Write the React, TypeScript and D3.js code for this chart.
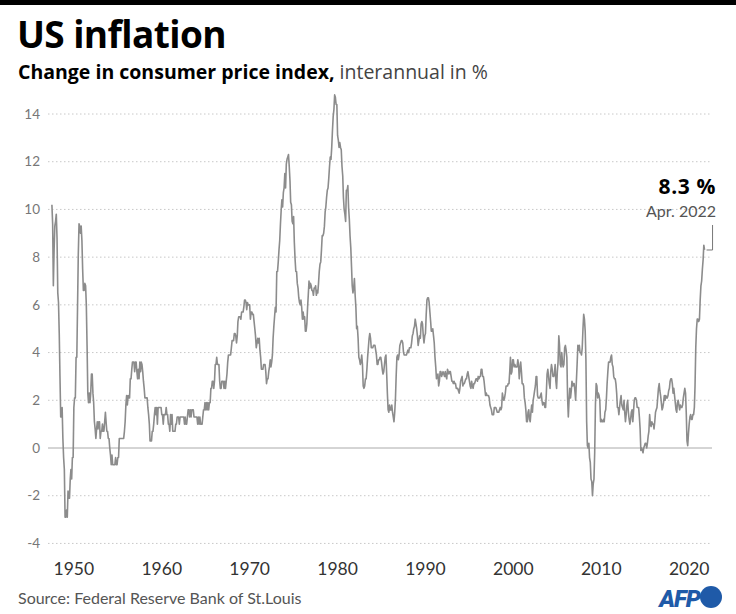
import React from "react";
import * as d3 from "d3";

// Monthly CPI year-on-year change (%), starting Jan 1948
const startYear = 1948;
const cpi1948_1959 = [
  10.2, 9.4, 6.8, 8.3, 9.3, 9.5, 9.8, 8.8, 6.5, 6.1, 4.8, 3.0,
  1.3, 1.3, 1.7, 0.4, -0.4, -0.9, -2.9, -2.9, -2.6, -2.9, -1.8, -2.1,
  -2.1, -1.3, -0.9, -1.3, -0.4, -0.4, 1.7, 2.1, 2.1, 3.8, 3.8, 5.9,
  8.1, 9.4, 9.3, 9.0, 9.3, 8.7, 7.5, 6.6, 6.6, 6.9, 6.8, 6.0,
  4.3, 2.3, 1.9, 2.3, 1.9, 2.3, 3.1, 3.1, 2.3, 1.9, 1.1, 0.8,
  0.4, 0.8, 1.1, 0.8, 1.1, 1.1, 0.4, 0.7, 0.7, 1.0, 0.7, 0.7,
  1.1, 1.5, 1.1, 0.7, 0.7, 0.4, 0.4, 0.0, -0.3, -0.7, -0.3, -0.7,
  -0.7, -0.7, -0.7, -0.4, -0.7, -0.7, -0.4, -0.4, 0.4, 0.4, 0.4, 0.4,
  0.4, 0.4, 0.4, 0.7, 1.1, 1.8, 2.2, 1.8, 2.2, 2.1, 2.1, 2.9,
  2.9, 3.3, 3.6, 3.6, 3.6, 3.2, 3.6, 3.6, 3.2, 2.9, 3.3, 2.9,
  3.6, 3.2, 3.6, 3.5, 3.2, 2.8, 2.5, 2.1, 2.1, 2.1, 2.1, 1.7,
  1.4, 1.0, 0.3, 0.3, 0.3, 0.7, 0.7, 1.0, 1.4, 1.7, 1.4, 1.7,
];
const cpi1960_1969 = [
  1.0, 1.7, 1.7, 1.7, 1.7, 1.7, 1.4, 1.4, 1.0, 1.4, 1.4, 1.4,
  1.7, 1.4, 1.4, 1.0, 1.0, 0.7, 1.4, 1.0, 1.4, 0.7, 0.7, 0.7,
  0.7, 1.0, 1.0, 1.3, 1.3, 1.3, 1.0, 1.3, 1.3, 1.3, 1.3, 1.3,
  1.3, 1.0, 1.3, 1.0, 1.0, 1.3, 1.6, 1.6, 1.3, 1.6, 1.3, 1.6,
  1.6, 1.6, 1.3, 1.3, 1.3, 1.3, 1.3, 1.0, 1.3, 1.0, 1.3, 1.0,
  1.0, 1.0, 1.3, 1.6, 1.6, 1.9, 1.6, 1.9, 1.6, 1.9, 1.6, 1.9,
  1.9, 2.5, 2.5, 2.8, 2.8, 2.5, 2.8, 3.5, 3.5, 3.8, 3.5, 3.5,
  3.5, 2.8, 2.5, 2.5, 2.8, 2.8, 2.8, 2.5, 2.8, 2.5, 2.8, 3.1,
  3.6, 3.9, 3.9, 3.9, 3.9, 4.2, 4.5, 4.5, 4.5, 4.8, 4.8, 4.7,
  4.4, 4.7, 5.3, 5.5, 5.5, 5.5, 5.4, 5.7, 5.7, 5.7, 5.9, 6.2,
];
const cpi1970_1979 = [
  6.2, 6.1, 5.8, 6.1, 6.0, 6.0, 6.0, 5.4, 5.7, 5.7, 5.6, 5.6,
  5.3, 5.0, 4.7, 4.2, 4.4, 4.6, 4.4, 4.6, 4.1, 3.8, 3.3, 3.3,
  3.3, 3.5, 3.5, 3.5, 3.2, 2.7, 2.9, 2.9, 3.2, 3.4, 3.7, 3.4,
  3.6, 3.9, 4.6, 5.1, 5.5, 5.9, 5.7, 7.4, 7.4, 7.8, 8.3, 8.7,
  9.4, 10.0, 10.4, 10.1, 10.7, 10.9, 11.5, 10.9, 11.9, 12.1, 12.2, 12.3,
  11.8, 11.2, 10.3, 10.2, 9.5, 9.4, 9.7, 8.6, 7.9, 7.4, 7.4, 6.9,
  6.7, 6.3, 6.1, 6.0, 6.2, 5.9, 5.4, 5.7, 5.4, 5.5, 4.9, 4.9,
  5.2, 5.9, 6.4, 7.0, 6.7, 6.9, 6.8, 6.6, 6.6, 6.4, 6.7, 6.7,
  6.8, 6.4, 6.6, 6.5, 6.9, 7.4, 7.7, 7.8, 8.3, 8.9, 8.9, 9.0,
  9.3, 9.9, 10.1, 10.5, 10.8, 10.9, 11.3, 11.8, 12.2, 12.1, 12.6, 13.3,
];
const cpi1980_1989 = [
  13.9, 14.2, 14.8, 14.7, 14.4, 14.4, 13.1, 12.9, 12.6, 12.8, 12.6, 12.5,
  11.8, 11.4, 10.5, 10.0, 9.8, 9.5, 10.8, 10.8, 11.0, 10.1, 9.6, 8.9,
  8.4, 7.6, 6.8, 6.5, 6.7, 7.1, 6.4, 5.9, 5.0, 5.1, 4.6, 3.8,
  3.7, 3.5, 3.6, 3.9, 3.5, 2.6, 2.5, 2.6, 2.9, 2.9, 3.3, 3.8,
  4.2, 4.6, 4.8, 4.6, 4.2, 4.2, 4.2, 4.3, 4.3, 4.3, 4.1, 3.9,
  3.5, 3.5, 3.7, 3.7, 3.8, 3.8, 3.6, 3.3, 3.1, 3.2, 3.5, 3.8,
  3.9, 3.1, 2.3, 1.6, 1.5, 1.8, 1.6, 1.6, 1.8, 1.5, 1.3, 1.1,
  1.5, 2.1, 3.0, 3.8, 3.9, 3.7, 3.9, 4.3, 4.4, 4.5, 4.5, 4.4,
  4.0, 3.9, 3.9, 3.9, 3.9, 4.0, 4.1, 4.0, 4.2, 4.2, 4.2, 4.4,
  4.7, 4.8, 5.0, 5.1, 5.4, 5.2, 5.0, 4.7, 4.3, 4.5, 4.7, 4.6,
];
const cpi1990_1999 = [
  5.2, 5.3, 5.2, 4.7, 4.4, 4.7, 4.8, 5.6, 6.2, 6.3, 6.3, 6.1,
  5.7, 5.3, 4.9, 4.9, 5.0, 4.7, 4.4, 3.8, 3.4, 2.9, 3.0, 3.1,
  2.6, 2.8, 3.2, 3.2, 3.0, 3.1, 3.2, 3.1, 3.0, 3.2, 3.0, 2.9,
  3.3, 3.2, 3.1, 3.2, 3.2, 3.0, 2.8, 2.8, 2.7, 2.8, 2.7, 2.7,
  2.5, 2.5, 2.5, 2.4, 2.3, 2.5, 2.8, 2.9, 3.0, 2.6, 2.7, 2.7,
  2.8, 2.9, 2.9, 3.1, 3.2, 3.0, 2.8, 2.6, 2.5, 2.8, 2.6, 2.5,
  2.7, 2.7, 2.8, 2.9, 2.9, 2.8, 3.0, 2.9, 3.0, 3.0, 3.3, 3.3,
  3.0, 3.0, 2.8, 2.5, 2.2, 2.3, 2.2, 2.2, 2.2, 2.1, 1.8, 1.7,
  1.6, 1.4, 1.4, 1.4, 1.7, 1.7, 1.7, 1.6, 1.5, 1.5, 1.5, 1.6,
  1.7, 1.6, 1.7, 2.3, 2.1, 2.0, 2.1, 2.3, 2.6, 2.6, 2.6, 2.7,
];
const cpi2000_2009 = [
  2.7, 3.2, 3.8, 3.1, 3.2, 3.7, 3.7, 3.4, 3.5, 3.4, 3.4, 3.4,
  3.7, 3.5, 2.9, 3.3, 3.6, 3.2, 2.7, 2.7, 2.6, 2.1, 1.9, 1.6,
  1.1, 1.1, 1.5, 1.6, 1.2, 1.1, 1.5, 1.8, 1.5, 2.0, 2.2, 2.4,
  2.6, 3.0, 3.0, 2.2, 2.1, 2.1, 2.1, 2.2, 2.3, 2.0, 1.8, 1.9,
  1.9, 1.7, 1.7, 2.3, 3.1, 3.3, 3.0, 2.7, 2.5, 3.2, 3.5, 3.3,
  3.0, 3.0, 3.1, 3.5, 2.8, 2.5, 3.2, 3.6, 4.7, 4.3, 3.5, 3.4,
  4.0, 3.6, 3.4, 3.5, 4.2, 4.3, 4.1, 3.8, 2.1, 1.3, 2.0, 2.5,
  2.1, 2.4, 2.8, 2.6, 2.7, 2.7, 2.4, 2.0, 2.8, 3.5, 4.3, 4.1,
  4.3, 4.0, 4.0, 3.9, 4.2, 5.0, 5.6, 5.4, 4.9, 3.7, 1.1, 0.1,
  0.0, 0.2, -0.4, -0.6, -1.3, -1.4, -2.0, -1.5, -1.3, -0.2, 1.8, 2.7,
];
const cpi2010_2022 = [
  2.6, 2.1, 2.3, 2.2, 2.0, 1.1, 1.2, 1.1, 1.1, 1.2, 1.1, 1.5,
  1.6, 2.1, 2.7, 3.2, 3.6, 3.6, 3.6, 3.8, 3.9, 3.5, 3.4, 3.0,
  2.9, 2.9, 2.7, 2.3, 1.7, 1.7, 1.4, 1.7, 2.0, 2.2, 1.8, 1.7,
  1.6, 2.0, 1.5, 1.1, 1.4, 1.8, 2.0, 1.5, 1.2, 1.0, 1.2, 1.5,
  1.6, 1.1, 1.5, 2.0, 2.1, 2.1, 2.0, 1.7, 1.7, 1.7, 1.3, 0.8,
  -0.1, 0.0, -0.1, -0.2, 0.0, 0.1, 0.2, 0.2, 0.0, 0.2, 0.5, 0.7,
  1.4, 1.0, 0.9, 1.1, 1.0, 1.0, 0.8, 1.1, 1.5, 1.6, 1.7, 2.1,
  2.5, 2.7, 2.4, 2.2, 1.9, 1.6, 1.7, 1.9, 2.2, 2.0, 2.2, 2.1,
  2.1, 2.2, 2.4, 2.5, 2.8, 2.9, 2.9, 2.7, 2.3, 2.5, 2.2, 1.9,
  1.6, 1.5, 1.9, 2.0, 1.8, 1.6, 1.8, 1.7, 1.7, 1.8, 2.1, 2.3,
  2.5, 2.3, 1.5, 0.3, 0.1, 0.6, 1.0, 1.3, 1.4, 1.2, 1.2, 1.4,
  1.4, 1.7, 2.6, 4.2, 5.0, 5.4, 5.4, 5.3, 5.4, 6.2, 6.8, 7.0,
  7.5, 7.9, 8.5, 8.3,
];

const yTicks = [-4, -2, 0, 2, 4, 6, 8, 10, 12, 14];
const xTickYears = [1950, 1960, 1970, 1980, 1990, 2000, 2010, 2020];
const title = "US inflation";
const subtitleBold = "Change in consumer price index,";
const subtitleLight = " interannual in %";
const annotationValue = "8.3 %";
const annotationDate = "Apr. 2022";
const source = "Source: Federal Reserve Bank of St.Louis";

const W = 736;
const H = 614;
const HEAD_FONT = "'Open Sans', 'Noto Sans', sans-serif";
const FONT = "Lato, Roboto, sans-serif";

export default function App() {
  const values = [
    ...cpi1948_1959,
    ...cpi1960_1969,
    ...cpi1970_1979,
    ...cpi1980_1989,
    ...cpi1990_1999,
    ...cpi2000_2009,
    ...cpi2010_2022,
  ];
  const data = values.map((v, i) => ({
    date: new Date(startYear + Math.floor(i / 12), i % 12, 1),
    v,
  }));

  const x = d3
    .scaleTime()
    .domain([new Date(1950, 0, 1), new Date(2020, 0, 1)])
    .range([69.5, 684.8]);
  const y = d3.scaleLinear().domain([0, 14]).range([448, 114]);

  const line = d3
    .line<{ date: Date; v: number }>()
    .x((d) => x(d.date))
    .y((d) => y(d.v));

  const gridX0 = 48;
  const gridX1 = 712;
  const last = data[data.length - 1];
  const lx = x(last.date);
  const ly = y(last.v);

  return (
    <svg
      width={W}
      height={H}
      style={{ position: "absolute", left: 0, top: 0, background: "#fff" }}
      fontFamily={FONT}
    >
      <rect x={0} y={0} width={W} height={H} fill="#fff" />
      <rect x={0} y={0} width={W} height={5} fill="#000" />
      <text x={17} y={48} fontSize={37} fontWeight={700} fill="#000" fontFamily={HEAD_FONT} letterSpacing={-0.6}>
        {title}
      </text>
      <text x={18} y={79} fontSize={19.5} fill="#000" fontFamily={HEAD_FONT}>
        <tspan fontWeight={700}>{subtitleBold}</tspan>
        <tspan fill="#444" fontWeight={400}>{subtitleLight}</tspan>
      </text>

      {yTicks.map((t) => (
        <g key={t}>
          {t !== 0 && (
            <line
              x1={gridX0}
              x2={gridX1}
              y1={y(t)}
              y2={y(t)}
              stroke="#c8c8c8"
              strokeWidth={1}
              strokeDasharray="1.5 2.5"
            />
          )}
          <text
            x={40}
            y={y(t)}
            dy="0.35em"
            textAnchor="end"
            fontSize={13.5}
            fill="#777"
          >
            {t}
          </text>
        </g>
      ))}
      <line x1={gridX0} x2={gridX1} y1={y(0)} y2={y(0)} stroke="#aaa" strokeWidth={1} />

      {xTickYears.map((yr) => (
        <text
          key={yr}
          x={x(new Date(yr, 6, 1))}
          y={575}
          textAnchor="middle"
          fontSize={17.5}
          fill="#333"
        >
          {yr}
        </text>
      ))}

      <path
        d={line(data) || ""}
        fill="none"
        stroke="#8c8c8c"
        strokeWidth={1.6}
        strokeLinejoin="round"
      />

      <polyline
        points={`${lx + 2},${ly} ${lx + 8},${ly} ${lx + 8},${ly - 25}`}
        fill="none"
        stroke="#777"
        strokeWidth={1}
      />
      <text x={716} y={194} textAnchor="end" fontSize={21} fontWeight={700} fill="#000" fontFamily={HEAD_FONT} letterSpacing={0.6}>
        {annotationValue}
      </text>
      <text x={716} y={217} textAnchor="end" fontSize={16} fill="#555">
        {annotationDate}
      </text>

      <text x={18} y={604} fontSize={16} fill="#555">
        {source}
      </text>
      <text
        x={700}
        y={607}
        textAnchor="end"
        fontSize={24}
        fontWeight={900}
        fontStyle="italic"
        fill="#1f5aa8"
        letterSpacing={-1}
        fontFamily="Roboto, sans-serif"
      >
        AFP
      </text>
      <circle cx={711} cy={597} r={11} fill="#1f5aa8" />
    </svg>
  );
}
